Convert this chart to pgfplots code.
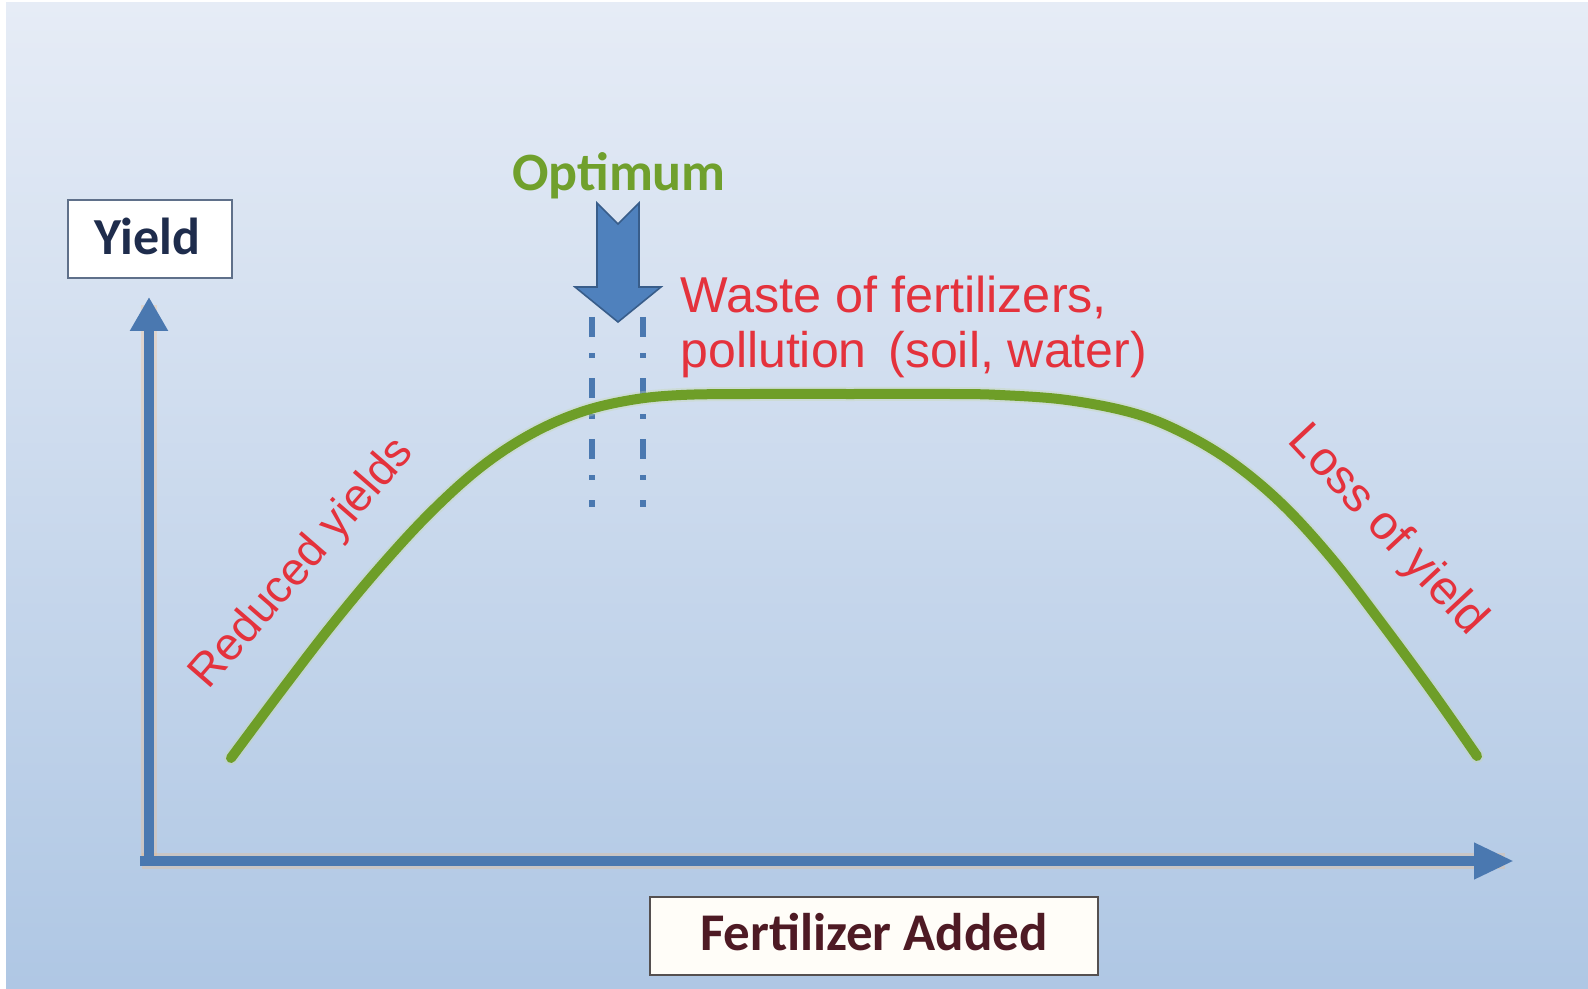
\documentclass[border=0pt]{standalone}
\usepackage{pgfplots}
\pgfplotsset{compat=1.18}
\usetikzlibrary{arrows.meta}
\usepackage{fontspec}
\setmainfont{Carlito}
\newfontfamily\arial{Liberation Sans}
\definecolor{bgtop}{RGB}{230,236,246}
\definecolor{bgbot}{RGB}{175,199,228}
\definecolor{axblue}{RGB}{74,120,176}
\definecolor{arrfill}{RGB}{79,129,189}
\definecolor{arrdraw}{RGB}{56,93,138}
\definecolor{curvegreen}{RGB}{110,158,40}
\definecolor{optgreen}{RGB}{112,160,44}
\definecolor{wred}{RGB}{228,50,60}
\definecolor{navy}{RGB}{30,44,76}
\definecolor{maroon}{RGB}{78,26,36}
\definecolor{boxgray}{RGB}{95,112,138}
\pgfplotstableread{
x y
231 758
281 691
331 626
381 566
431 512
481 467
531 434
581 412
631 400
681 395
750 394
850 394
950 394
1000 395
1067 400
1133 413
1183 433
1233 463
1283 505
1333 560
1383 625
1433 693
1477 756
}\curvedata
\begin{document}
\begin{tikzpicture}
\begin{axis}[
  scale only axis, width=794pt, height=494.5pt,
  xmin=0, xmax=1588, ymin=0, ymax=989, y dir=reverse,
  hide axis, clip=true]
% background
\fill[white] (axis cs:0,0) rectangle (axis cs:1588,989);
\shade[top color=bgtop, bottom color=bgbot] (axis cs:6,3) rectangle (axis cs:1588,989);
% axes glow
\draw[line width=8pt, orange!60, opacity=0.25] (axis cs:149,861) -- (axis cs:149,305);
\draw[line width=8pt, orange!60, opacity=0.25] (axis cs:142,861) -- (axis cs:1505,861);
% axes
\draw[line width=5pt, axblue, -{Triangle[length=17pt,width=18pt]}] (axis cs:149,863) -- (axis cs:149,297);
\draw[line width=5pt, axblue, -{Triangle[length=20pt,width=17pt]}] (axis cs:140,861) -- (axis cs:1514,861);
% dashed optimum lines
\draw[line width=3pt, axblue, dash pattern=on 10pt off 8pt on 2.5pt off 10pt] (axis cs:592,317) -- (axis cs:592,507);
\draw[line width=3pt, axblue, dash pattern=on 10pt off 8pt on 2.5pt off 10pt] (axis cs:643,317) -- (axis cs:643,507);
% curve
\addplot[smooth, tension=0.6, line width=7pt, curvegreen!40!white, opacity=0.35, line cap=round] table {\curvedata};
\addplot[smooth, tension=0.6, line width=5pt, curvegreen, line cap=round] table {\curvedata};
% optimum arrow
\filldraw[fill=arrfill, draw=arrdraw, line width=0.8pt, line join=miter]
 (axis cs:597,203) -- (axis cs:618,224) -- (axis cs:639,203) -- (axis cs:639,287) -- (axis cs:661,287)
 -- (axis cs:618,322) -- (axis cs:575,287) -- (axis cs:597,287) -- cycle;
% boxes
\filldraw[fill=white, draw=boxgray, line width=1.2pt] (axis cs:68,200) rectangle (axis cs:232,278);
\node[anchor=base, inner sep=0pt, text=navy, font=\fontsize{26}{30}\selectfont\bfseries] at (axis cs:147,255) {Yield};
\filldraw[fill={rgb,255:red,255;green,253;blue,248}, draw={rgb,255:red,85;green,80;blue,80}, line width=1.2pt] (axis cs:650,897) rectangle (axis cs:1098,975);
\node[anchor=base, inner sep=0pt, text=maroon, font=\fontsize{26.5}{30}\selectfont\bfseries] at (axis cs:874,950) {Fertilizer Added};
% texts
\node[anchor=base, inner sep=0pt, text=optgreen, font=\fontsize{27}{30}\selectfont\bfseries] at (axis cs:619,191) {Optimum};
\node[anchor=base west, inner sep=0pt, text=wred, font=\arial\fontsize{25.2}{28}\selectfont] at (axis cs:680,313) {Waste of fertilizers,};
\node[anchor=base west, inner sep=0pt, text=wred, font=\arial\fontsize{25}{28}\selectfont] at (axis cs:680,367) {pollution\hspace{4pt} (soil, water)};
\node[inner sep=0pt, rotate=49, text=wred, font=\arial\fontsize{23}{26}\selectfont] at (axis cs:303,564) {Reduced yields};
\node[inner sep=0pt, rotate=-47, text=wred, font=\arial\fontsize{24}{28}\selectfont] at (axis cs:1387,531) {Loss of yield};
\end{axis}
\end{tikzpicture}
\end{document}
